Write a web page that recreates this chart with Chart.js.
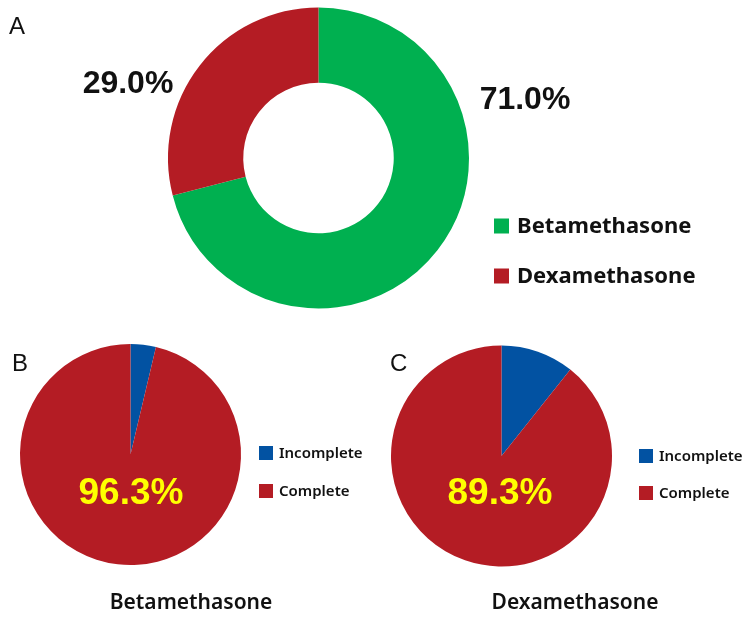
<!DOCTYPE html>
<html>
<head>
<meta charset="utf-8">
<script src="https://cdn.jsdelivr.net/npm/chart.js@4/dist/chart.umd.min.js"></script>
<style>
  body { margin: 0; background: #fff; }
  #wrap { position: relative; width: 755px; height: 617px; background: #fff; }
  canvas { position: absolute; }
</style>
</head>
<body>
<div id="wrap">
  <canvas id="chartA" width="755" height="320" style="left:0;top:0"></canvas>
  <canvas id="chartB" width="375" height="287" style="left:0;top:330px"></canvas>
  <canvas id="chartC" width="380" height="287" style="left:375px;top:330px"></canvas>
</div>
<script>
// Data
const drugLabels = ['Betamethasone', 'Dexamethasone'];
const drugShare = [71.0, 29.0];
const courseLabels = ['Incomplete', 'Complete'];
const betaCourse = [3.7, 96.3];
const dexaCourse = [10.7, 89.3];

const GREEN = '#00B050';
const RED = '#B41C24';
const BLUE = '#0252A2';
const LEGEND_FONT = '"Noto Sans", "DejaVu Sans", sans-serif';
const NUM_FONT = '"Liberation Sans", Arial, sans-serif';

function pct(v) {
    return v.toFixed(1) + '%';
}

// draws panel letters, value labels and a square legend
const panelText = {
    id: 'panelText',
    afterDraw(chart, args, opts) {
        const ctx = chart.ctx;
        ctx.save();
        (opts.texts || []).forEach(t => {
            ctx.font = t.font;
            ctx.fillStyle = t.color || '#111';
            ctx.textAlign = t.align || 'center';
            ctx.textBaseline = 'middle';
            ctx.fillText(t.text, t.x, t.y);
        });
        const lg = opts.legend;
        if (lg) {
            const colors = chart.data.datasets[0].backgroundColor;
            chart.data.labels.forEach((label, i) => {
                const cy = lg.y + i * lg.gap;
                ctx.fillStyle = colors[i];
                ctx.fillRect(lg.x, cy - lg.box / 2, lg.box, lg.box);
                ctx.font = lg.font;
                ctx.fillStyle = '#111';
                ctx.textAlign = 'left';
                ctx.textBaseline = 'middle';
                ctx.fillText(label, lg.x + lg.box + lg.textGap, cy + 1);
            });
        }
        ctx.restore();
    }
};

function baseOptions(padding, textOpts) {
    return {
        responsive: false,
        animation: false,
        layout: { padding: padding },
        plugins: {
            legend: { display: false },
            tooltip: { enabled: false },
            panelText: textOpts
        }
    };
}

// Panel A - share of each drug
new Chart(document.getElementById('chartA'), {
    type: 'doughnut',
    data: {
        labels: drugLabels,
        datasets: [{
            data: drugShare,
            backgroundColor: [GREEN, RED],
            borderWidth: 0
        }]
    },
    options: Object.assign(baseOptions({ left: 168, right: 286, top: 7, bottom: 11 }, {
        texts: [
            { text: 'A', x: 9, y: 27, font: '24px ' + NUM_FONT, align: 'left' },
            { text: pct(drugShare[1]), x: 128, y: 84, font: 'bold 32px ' + NUM_FONT },
            { text: pct(drugShare[0]), x: 525, y: 100, font: 'bold 32px ' + NUM_FONT }
        ],
        legend: { x: 494, y: 226, gap: 50, box: 15, textGap: 8, font: 'bold 22px ' + LEGEND_FONT }
    }), { cutout: '50%' }),
    plugins: [panelText]
});

// Panel B - Betamethasone course completion
new Chart(document.getElementById('chartB'), {
    type: 'pie',
    data: {
        labels: courseLabels,
        datasets: [{
            data: betaCourse,
            backgroundColor: [BLUE, RED],
            borderWidth: 0
        }]
    },
    options: baseOptions({ left: 20, right: 134, top: 14, bottom: 52 }, {
        texts: [
            { text: 'B', x: 12, y: 34, font: '24px ' + NUM_FONT, align: 'left' },
            { text: pct(betaCourse[1]), x: 131, y: 164, font: 'bold 37px ' + NUM_FONT, color: '#FFFF00' },
            { text: 'Betamethasone', x: 191, y: 273, font: '600 21px ' + LEGEND_FONT }
        ],
        legend: { x: 259, y: 123, gap: 38, box: 14, textGap: 6, font: '600 15px ' + LEGEND_FONT }
    }),
    plugins: [panelText]
});

// Panel C - Dexamethasone course completion
new Chart(document.getElementById('chartC'), {
    type: 'pie',
    data: {
        labels: courseLabels,
        datasets: [{
            data: dexaCourse,
            backgroundColor: [BLUE, RED],
            borderWidth: 0
        }]
    },
    options: baseOptions({ left: 16, right: 143, top: 15, bottom: 50 }, {
        texts: [
            { text: 'C', x: 15, y: 34, font: '24px ' + NUM_FONT, align: 'left' },
            { text: pct(dexaCourse[1]), x: 125, y: 164, font: 'bold 37px ' + NUM_FONT, color: '#FFFF00' },
            { text: 'Dexamethasone', x: 200, y: 273, font: '600 21px ' + LEGEND_FONT }
        ],
        legend: { x: 264, y: 126, gap: 37, box: 14, textGap: 6, font: '600 15px ' + LEGEND_FONT }
    }),
    plugins: [panelText]
});
</script>
</body>
</html>
